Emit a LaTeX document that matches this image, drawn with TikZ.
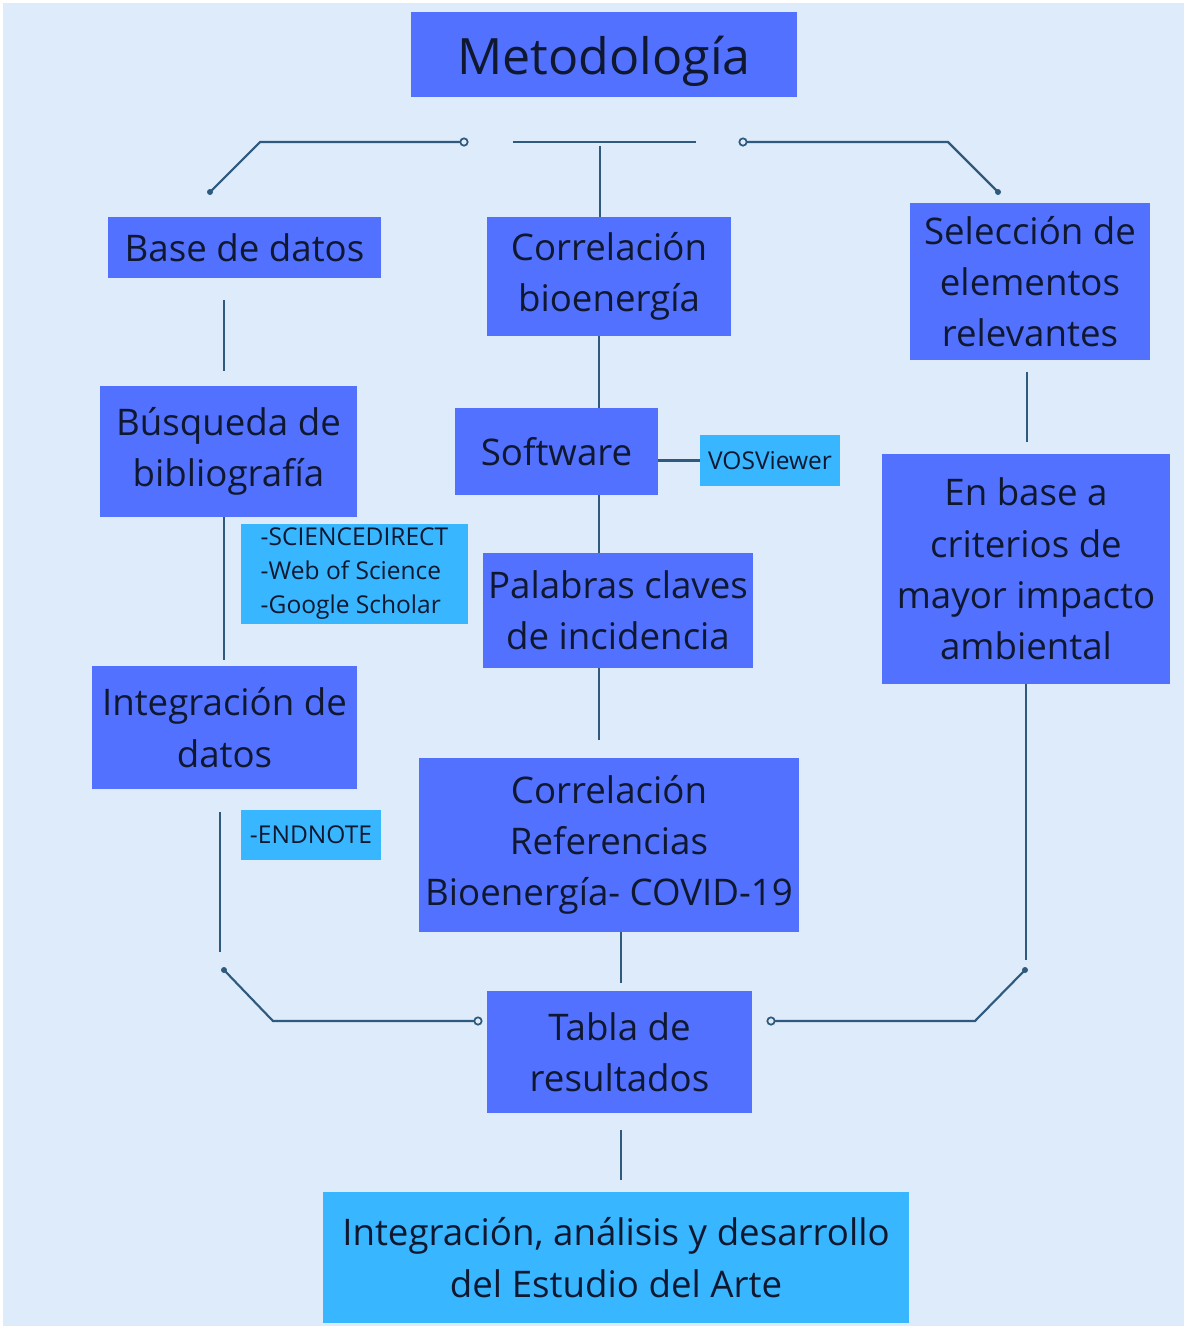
\documentclass[tikz,border=0pt]{standalone}
\usepackage{fontspec}
\setmainfont{Open Sans}
\definecolor{bg}{HTML}{DDEBFA}
\definecolor{dbox}{HTML}{5271FF}
\definecolor{lbox}{HTML}{38B6FF}
\definecolor{ink}{HTML}{101830}
\definecolor{ln}{HTML}{2F5A7E}
\tikzset{
  every node/.style={text=ink},
  bigbox/.style={fill=dbox, inner sep=0pt, align=center, font=\fontsize{27.5}{38.5}\selectfont},
  smallbox/.style={fill=lbox, inner sep=0pt, font=\fontsize{18.4}{25.5}\selectfont},
  finalbox/.style={fill=lbox, inner sep=0pt, align=center, font=\fontsize{27.5}{38.5}\selectfont},
  conn/.style={draw=ln, line width=1.6pt},
  fdot/.style={circle, fill=ln, inner sep=0pt, minimum size=4.5pt},
  odot/.style={circle, draw=ln, fill=bg, line width=1.3pt, inner sep=0pt, minimum size=5.5pt},
}
\begin{document}
\begin{tikzpicture}[x=0.75pt, y=-0.75pt]
\useasboundingbox (0,0) rectangle (1186,1329);
\fill[white] (0,0) rectangle (1186,1329);
\fill[bg] (3,3) rectangle (1184,1326);

% boxes
\node[bigbox, minimum width=289.5pt, minimum height=63.75pt, font=\fontsize{37.6}{45}\selectfont] (met) at (604,54.5) {\raisebox{-5pt}[\height][\depth]{Metodología}};
\node[bigbox, minimum width=204.75pt, minimum height=45.75pt] (base) at (244.5,247.5) {Base de datos};
\node[bigbox, minimum width=183pt, minimum height=89.25pt] (corb) at (609,276.5) {Correlación\\bioenergía};
\node[bigbox, minimum width=180pt, minimum height=117.75pt] (sel) at (1030,281.5) {Selección de\\elementos\\relevantes};
\node[bigbox, minimum width=192.75pt, minimum height=98.25pt] (busq) at (228.5,451.5) {Búsqueda de\\bibliografía};
\node[bigbox, minimum width=152.25pt, minimum height=65.25pt] (soft) at (556.5,451.5) {Software};
\node[smallbox, minimum width=105pt, minimum height=38.25pt] (vos) at (770,460.5) {VOSViewer};
\node[smallbox, minimum width=170.25pt, minimum height=75pt, align=left] (src) at (354.5,574) {-SCIENCEDIRECT\\-Web of Science\\-Google Scholar};
\node[bigbox, minimum width=202.5pt, minimum height=86.25pt] (pal) at (618,610.5) {Palabras claves\\de incidencia};
\node[bigbox, minimum width=216pt, minimum height=172.5pt] (crit) at (1026,569) {En base a\\criterios de\\mayor impacto\\ambiental};
\node[bigbox, minimum width=198.75pt, minimum height=92.25pt] (integ) at (224.5,727.5) {Integración de\\datos};
\node[smallbox, minimum width=105pt, minimum height=37.5pt] (endn) at (311,835) {-ENDNOTE};
\node[bigbox, minimum width=285pt, minimum height=130.5pt] (cref) at (609,845) {Correlación\\Referencias\\Bioenergía- COVID-19};
\node[bigbox, minimum width=198.75pt, minimum height=91.5pt] (tabla) at (619.5,1052) {Tabla de\\resultados};
\node[finalbox, minimum width=439.5pt, minimum height=98.25pt] (fin) at (616,1257.5) {Integración, análisis y desarrollo\\del Estudio del Arte};

% top bracket
\coordinate (tl1) at (210,192); \coordinate (tl2) at (260,142); \coordinate (tl3) at (464,142);
\coordinate (tm1) at (513,142); \coordinate (tm2) at (696,142); \coordinate (tm3) at (600,146);
\coordinate (tr1) at (743,142); \coordinate (tr2) at (948,142); \coordinate (tr3) at (998,192);
\draw[conn] (tl1) -- (tl2) -- (tl3);
\draw[conn] (tm1) -- (tm2);
\draw[conn] (tm3) -- (tm3 |- corb.north);
\draw[conn] (tr1) -- (tr2) -- (tr3);
\node[fdot] at (tl1) {}; \node[odot] at (tl3) {};
\node[odot] at (tr1) {}; \node[fdot] at (tr3) {};

% left column
\coordinate (a1) at (224,300); \coordinate (a2) at (224,371);
\draw[conn] (a1) -- (a2);
\draw[conn] (busq.south -| a1) -- (224,660);
\coordinate (b1) at (220,812); \coordinate (b2) at (220,952);
\draw[conn] (b1) -- (b2);

% middle column
\coordinate (m1) at (599,336);
\draw[conn] (m1) -- (m1 |- soft.north);
\draw[conn] (soft.east |- vos.west) -- (vos.west);
\draw[conn] (soft.south -| m1) -- (m1 |- pal.north);
\coordinate (m2) at (599,740);
\draw[conn] (pal.south -| m2) -- (m2);
\coordinate (m3) at (621,983);
\draw[conn] (cref.south -| m3) -- (m3);
\coordinate (m4) at (621,1130); \coordinate (m5) at (621,1180);
\draw[conn] (m4) -- (m5);

% right column
\coordinate (r1) at (1027,372); \coordinate (r2) at (1027,442);
\draw[conn] (r1) -- (r2);
\coordinate (r3) at (1026,960);
\draw[conn] (crit.south -| r3) -- (r3);

% bottom bracket
\coordinate (bl1) at (224,970); \coordinate (bl2) at (273,1021); \coordinate (bl3) at (478,1021);
\coordinate (br1) at (771,1021); \coordinate (br2) at (975,1021); \coordinate (br3) at (1025,970);
\draw[conn] (bl1) -- (bl2) -- (bl3);
\draw[conn] (br1) -- (br2) -- (br3);
\node[fdot] at (bl1) {}; \node[odot] at (bl3) {};
\node[odot] at (br1) {}; \node[fdot] at (br3) {};
\end{tikzpicture}
\end{document}
